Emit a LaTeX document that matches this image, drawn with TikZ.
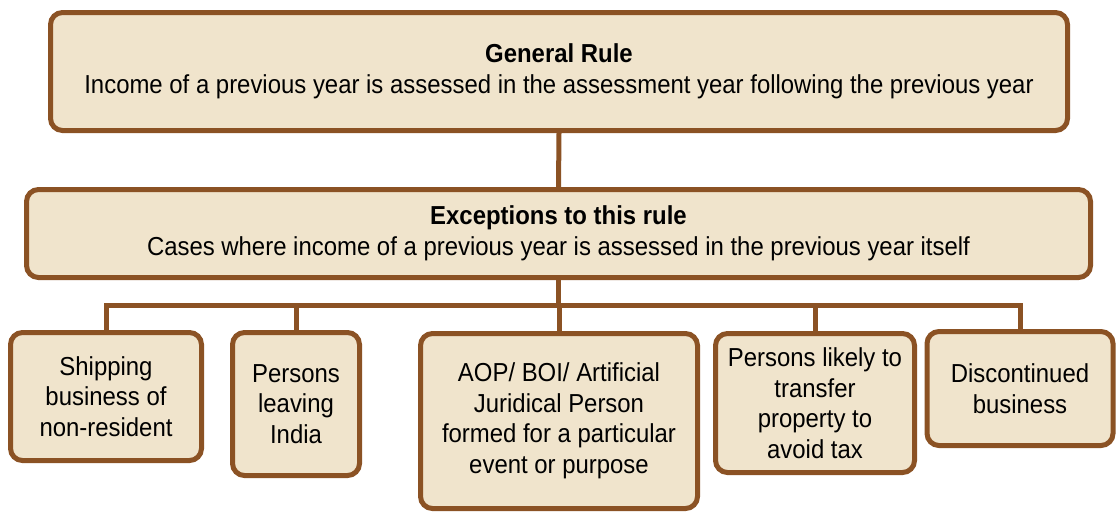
\documentclass[tikz,border=0pt]{standalone}
\usepackage{fontspec}
\setmainfont{Liberation Sans}[FakeStretch=0.92]
\definecolor{brn}{HTML}{8B5224}
\definecolor{fil}{HTML}{F0E4CC}
\begin{document}
\begin{tikzpicture}[x=1pt,y=-1pt,
  box/.style={draw=brn, line width=5pt, fill=fil, rounded corners=12pt,
    align=center, inner sep=0pt, font=\fontsize{26}{30.5}\selectfont},
  conn/.style={draw=brn, line width=5pt}]
\useasboundingbox (0,0) rectangle (1117,512);
% connectors
\coordinate (bus) at (0,305);
\node[box, minimum width=1017pt, minimum height=118pt] (top) at (559,71.5)
  {\textbf{General Rule}\\Income of a previous year is assessed in the assessment year following the previous year};
\node[box, minimum width=1064pt, minimum height=88pt] (exc) at (558.5,233.5)
  {\textbf{Exceptions to this rule}\\Cases where income of a previous year is assessed in the previous year itself};
\node[box, minimum width=191pt, minimum height=128pt] (b1) at (106,396.5)
  {Shipping\\business of\\non-resident};
\node[box, minimum width=127pt, minimum height=143pt] (b2) at (296,404)
  {Persons\\leaving\\India};
\node[box, minimum width=277pt, minimum height=175pt] (b3) at (559,421)
  {AOP/ BOI/ Artificial\\Juridical Person\\formed for a particular\\event or purpose};
\node[box, minimum width=199pt, minimum height=139pt] (b4) at (815,403)
  {Persons likely to\\transfer\\property to\\avoid tax};
\node[box, minimum width=186pt, minimum height=114pt] (b5) at (1020,388.5)
  {Discontinued\\business};
\draw[conn] (top.south) -- (exc.north);
\draw[conn] (exc.south) -- (exc.south |- bus);
\draw[conn] (b1.north) |- (b5.north |- bus) -- (b5.north);
\draw[conn] (b2.north) -- (b2.north |- bus);
\draw[conn] (b3.north) -- (b3.north |- bus);
\draw[conn] (b4.north) -- (b4.north |- bus);
\end{tikzpicture}
\end{document}
